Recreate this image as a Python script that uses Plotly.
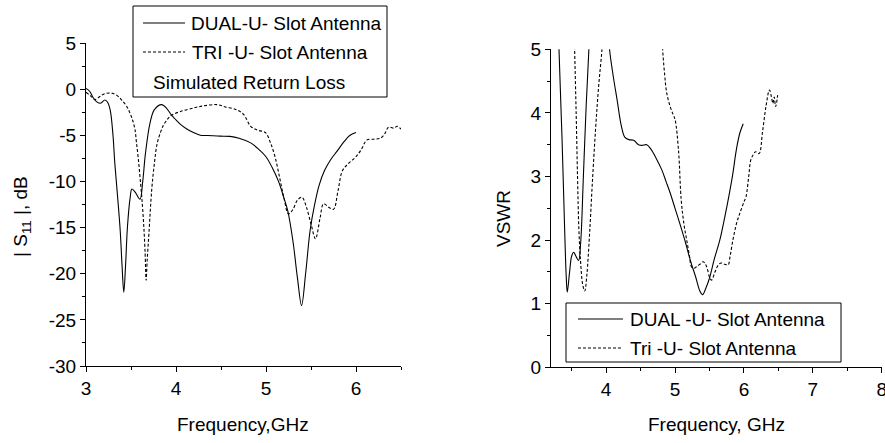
import plotly.graph_objects as go

W, H = 885, 443
FONT = "Liberation Sans, Arial, sans-serif"

# ---- Left: simulated return loss |S11| (dB) ----
dual_s11_f = [3.00, 3.04, 3.08, 3.12, 3.16, 3.21, 3.24, 3.27, 3.30, 3.32, 3.35, 3.38, 3.40, 3.42,
              3.44, 3.46, 3.49, 3.51, 3.55, 3.60, 3.63, 3.66, 3.71, 3.76, 3.84, 3.90, 3.95, 4.00,
              4.05, 4.12, 4.20, 4.27, 4.35, 4.49, 4.60, 4.70, 4.83, 4.92, 5.00, 5.07, 5.14, 5.20,
              5.24, 5.30, 5.35, 5.395, 5.44, 5.49, 5.54, 5.59, 5.65, 5.72, 5.79, 5.865, 5.93, 6.00]
dual_s11_v = [0.1, -0.2, -0.9, -1.35, -1.5, -1.15, -1.4, -2.3, -5.0, -8.0, -11.5, -15.3, -19.0, -22.0,
              -19.0, -15.0, -11.8, -10.8, -11.2, -11.9, -10.0, -7.0, -3.7, -2.2, -1.65, -2.1, -2.8, -3.3,
              -3.8, -4.3, -4.7, -4.97, -5.0, -5.07, -5.1, -5.3, -5.8, -6.5, -7.3, -8.5, -10.0, -11.8,
              -13.1, -16.5, -20.5, -23.45, -20.0, -15.3, -12.5, -10.4, -8.8, -7.6, -6.7, -5.7, -5.0, -4.68]

tri_s11_f = [3.00, 3.05, 3.10, 3.15, 3.20, 3.28, 3.35, 3.40, 3.45, 3.49, 3.52, 3.545, 3.56, 3.58,
             3.60, 3.62, 3.64, 3.656, 3.668, 3.68, 3.70, 3.73, 3.76, 3.79, 3.83, 3.86, 3.90, 3.95,
             4.05, 4.20, 4.30, 4.45, 4.55, 4.67, 4.75, 4.83, 4.90, 4.995, 5.05, 5.10, 5.15, 5.20,
             5.25, 5.30, 5.35, 5.40, 5.45, 5.50, 5.55, 5.60, 5.64, 5.70, 5.75, 5.80, 5.85, 5.92,
             6.00, 6.06, 6.12, 6.20, 6.27, 6.32, 6.36, 6.42, 6.46, 6.50]
tri_s11_v = [-0.3, -0.7, -1.1, -0.8, -0.5, -0.4, -0.7, -1.2, -1.8, -2.6, -3.4, -4.4, -5.7, -7.4,
             -9.5, -11.7, -14.5, -17.5, -20.7, -18.5, -15.5, -10.9, -8.0, -5.9, -4.6, -3.9, -3.3, -2.8,
             -2.4, -2.0, -1.8, -1.65, -1.9, -2.2, -2.7, -4.0, -4.4, -4.7, -5.8, -7.3, -9.5, -11.8,
             -13.5, -13.0, -12.0, -11.7, -12.8, -14.6, -16.2, -14.0, -12.4, -12.8, -13.0, -11.0, -8.8, -8.0,
             -7.3, -6.5, -5.5, -5.4, -5.3, -4.8, -4.1, -4.2, -4.0, -4.3]

# ---- Right: VSWR ----
dual_vswr_f = [3.30, 3.316, 3.36, 3.40, 3.42, 3.436, 3.47, 3.50, 3.53, 3.56, 3.60, 3.63, 3.67, 3.71,
               3.75, 3.77, None,
               4.02, 4.05, 4.10, 4.16, 4.22, 4.27, 4.33, 4.40, 4.47, 4.52, 4.59, 4.65, 4.72, 4.81,
               4.87, 4.93, 5.00, 5.07, 5.15, 5.22, 5.30, 5.36, 5.40, 5.45, 5.50, 5.57, 5.65, 5.72,
               5.79, 5.84, 5.89, 5.94, 5.99]
dual_vswr_v = [6.0, 5.0, 3.6, 2.1, 1.45, 1.18, 1.5, 1.75, 1.81, 1.75, 1.68, 1.95, 3.0, 4.1,
               5.0, 5.6, None,
               5.6, 5.0, 4.6, 4.2, 3.8, 3.62, 3.58, 3.57, 3.5, 3.49, 3.5, 3.43, 3.3, 3.1,
               2.92, 2.74, 2.5, 2.26, 1.97, 1.69, 1.42, 1.2, 1.14, 1.25, 1.40, 1.7, 2.0, 2.35,
               2.74, 3.05, 3.42, 3.68, 3.83]

tri_vswr_f = [3.53, 3.543, 3.565, 3.585, 3.605, 3.63, 3.66, 3.69, 3.72, 3.76, 3.80, 3.846, 3.89, 3.94,
              3.96, None,
              4.80, 4.82, 4.85, 4.88, 4.93, 4.97, 5.00, 5.05, 5.09, 5.13, 5.17, 5.21, 5.24, 5.28,
              5.31, 5.36, 5.41, 5.46, 5.50, 5.53, 5.58, 5.63, 5.67, 5.72, 5.77, 5.80, 5.84, 5.89,
              5.94, 6.00, 6.03, 6.07, 6.10, 6.14, 6.17, 6.22, 6.27, 6.32, 6.37, 6.40, 6.42, 6.44,
              6.46, 6.49]
tri_vswr_v = [5.6, 5.0, 4.0, 3.0, 2.16, 1.65, 1.3, 1.2, 1.45, 2.1, 2.9, 3.73, 4.4, 5.0,
              5.4, None,
              5.5, 5.0, 4.6, 4.31, 4.10, 3.98, 3.9, 3.42, 2.63, 2.25, 2.0, 1.75, 1.58, 1.56,
              1.58, 1.62, 1.66, 1.58, 1.42, 1.37, 1.5, 1.61, 1.64, 1.62, 1.61, 1.75, 2.0, 2.25,
              2.42, 2.6, 2.68, 3.0, 3.26, 3.35, 3.39, 3.36, 3.7, 4.10, 4.36, 4.25, 4.15, 4.25,
              4.10, 4.28]

s11_ticks = [-30, -25, -20, -15, -10, -5, 0, 5]
s11_ticktext = ["-30", "-25", "-20", "-15", "-10", "-5", "0", "5"]

left_legend = ["DUAL-U- Slot Antenna", "TRI -U- Slot Antenna", "Simulated Return Loss"]
right_legend = ["DUAL -U- Slot Antenna", "Tri -U- Slot Antenna"]

def px(x):
    return x / W

def py(y):
    return 1 - y / H

solid = dict(color="black", width=1.1)
dashed = dict(color="black", width=1.1, dash="3px,2px")

fig = go.Figure()
fig.add_trace(go.Scatter(x=dual_s11_f, y=dual_s11_v, mode="lines", line=solid,
                         line_shape="spline", xaxis="x", yaxis="y", showlegend=False))
fig.add_trace(go.Scatter(x=tri_s11_f, y=tri_s11_v, mode="lines", line=dashed,
                         line_shape="spline", xaxis="x", yaxis="y", showlegend=False))
fig.add_trace(go.Scatter(x=dual_vswr_f, y=dual_vswr_v, mode="lines", line=solid,
                         line_shape="spline", xaxis="x2", yaxis="y2", showlegend=False))
fig.add_trace(go.Scatter(x=tri_vswr_f, y=tri_vswr_v, mode="lines", line=dashed,
                         line_shape="spline", xaxis="x2", yaxis="y2", showlegend=False))

axis_common = dict(showline=True, linecolor="black", linewidth=1, ticks="outside",
                   ticklen=5, tickcolor="black", showgrid=False, zeroline=False,
                   automargin=False, ticklabeloverflow="allow",
                   tickfont=dict(family=FONT, size=19, color="black"))

fig.update_layout(
    width=W, height=H,
    margin=dict(l=0, r=0, t=0, b=0),
    paper_bgcolor="white", plot_bgcolor="white",
    font=dict(family=FONT, color="black"),
    xaxis=dict(domain=[px(86), px(401)], range=[3, 6.5], dtick=1, tick0=0, anchor="y",
               minor=dict(dtick=0.5, ticklen=3, ticks="outside", tickcolor="black"),
               **axis_common),
    yaxis=dict(domain=[py(366), py(43.3)], range=[-30, 5], tickmode="array",
               tickvals=s11_ticks, ticktext=s11_ticktext, anchor="x",
               minor=dict(dtick=2.5, ticklen=3, ticks="outside", tickcolor="black"),
               **axis_common),
    xaxis2=dict(domain=[px(551), px(881.7)], range=[3.2, 8], dtick=1, tick0=0, anchor="y2",
                minor=dict(dtick=0.5, ticklen=3, ticks="outside", tickcolor="black"),
                **axis_common),
    yaxis2=dict(domain=[py(367.3), py(49.3)], range=[0, 5], dtick=1, tick0=0, anchor="x2",
                minor=dict(dtick=0.5, ticklen=3, ticks="outside", tickcolor="black"),
                **axis_common),
)

tfont = dict(family=FONT, size=19, color="black")
lfont = dict(family=FONT, size=19, color="black")
P = dict(xref="paper", yref="paper", showarrow=False)
ann = []
ann.append(dict(x=px(243), y=py(424), text="Frequency,GHz", font=tfont,
                xanchor="center", yanchor="middle", **P))
ann.append(dict(x=px(716), y=py(424), text="Frequency, GHz", font=tfont,
                xanchor="center", yanchor="middle", **P))
ann.append(dict(x=px(22), y=py(217), text="| S<sub>11</sub> |, dB", font=tfont,
                textangle=-90, xanchor="center", yanchor="middle", **P))
ann.append(dict(x=px(503), y=py(218), text="VSWR", font=tfont,
                textangle=-90, xanchor="center", yanchor="middle", **P))

shapes = []
# left legend box
shapes.append(dict(type="rect", xref="paper", yref="paper", x0=px(133), x1=px(387),
                   y0=py(97), y1=py(6), line=dict(color="black", width=1), fillcolor="white"))
shapes.append(dict(type="line", xref="paper", yref="paper", x0=px(143), x1=px(185),
                   y0=py(23), y1=py(23), line=solid))
shapes.append(dict(type="line", xref="paper", yref="paper", x0=px(143), x1=px(185),
                   y0=py(52), y1=py(52), line=dashed))
ann.append(dict(x=px(189), y=py(23), text=left_legend[0], font=lfont,
                xanchor="left", yanchor="middle", **P))
ann.append(dict(x=px(190), y=py(52), text=left_legend[1], font=lfont,
                xanchor="left", yanchor="middle", **P))
ann.append(dict(x=px(151), y=py(82), text=left_legend[2], font=lfont,
                xanchor="left", yanchor="middle", **P))
# right legend box
shapes.append(dict(type="rect", xref="paper", yref="paper", x0=px(566), x1=px(841),
                   y0=py(362), y1=py(303), line=dict(color="black", width=1), fillcolor="white"))
shapes.append(dict(type="line", xref="paper", yref="paper", x0=px(578), x1=px(623),
                   y0=py(319), y1=py(319), line=solid))
shapes.append(dict(type="line", xref="paper", yref="paper", x0=px(578), x1=px(623),
                   y0=py(348), y1=py(348), line=dashed))
ann.append(dict(x=px(628), y=py(319), text=right_legend[0], font=lfont,
                xanchor="left", yanchor="middle", **P))
ann.append(dict(x=px(628), y=py(348), text=right_legend[1], font=lfont,
                xanchor="left", yanchor="middle", **P))

fig.update_layout(annotations=ann, shapes=shapes)
fig.write_html("out.html")
